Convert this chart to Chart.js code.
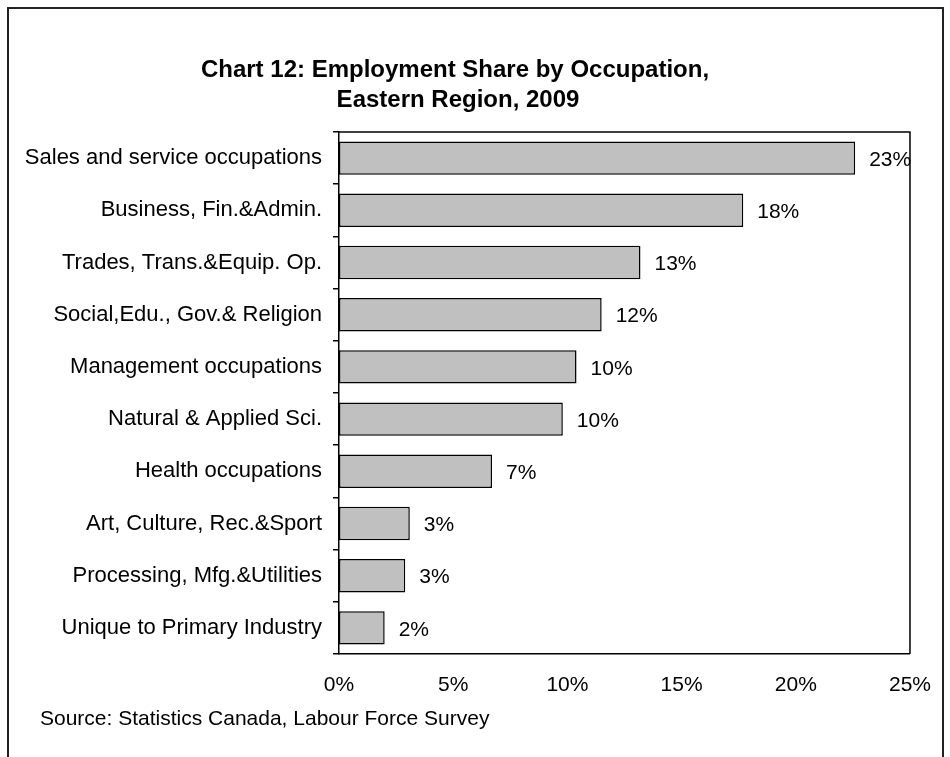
<!DOCTYPE html>
<html>
<head>
<meta charset="utf-8">
<script src="https://cdn.jsdelivr.net/npm/chart.js@4/dist/chart.umd.min.js"></script>
<style>
  html, body { margin: 0; padding: 0; background: #ffffff; }
  #wrap { width: 950px; height: 757px; position: relative; }
  canvas { display: block; }
</style>
</head>
<body>
<div id="wrap"><canvas id="c" width="950" height="757"></canvas></div>
<script>
const titleLines = ["Chart 12: Employment Share by Occupation,", "Eastern Region, 2009"];
const sourceNote = "Source: Statistics Canada, Labour Force Survey";
const categories = [
  "Sales and service occupations",
  "Business, Fin.&Admin.",
  "Trades, Trans.&Equip. Op.",
  "Social,Edu., Gov.& Religion",
  "Management occupations",
  "Natural & Applied Sci.",
  "Health occupations",
  "Art, Culture, Rec.&Sport",
  "Processing, Mfg.&Utilities",
  "Unique to Primary Industry"
];
const shares = [22.6, 17.7, 13.2, 11.5, 10.4, 9.8, 6.7, 3.1, 2.9, 2.0];
const xTicks = [0, 5, 10, 15, 20, 25];

const FONT = "'Liberation Sans', Arial, Helvetica, sans-serif";

const decor = {
  id: 'decor',
  afterDraw(chart) {
    const ctx = chart.ctx;
    const a = chart.chartArea;
    ctx.save();
    // outer frame (left, top, right)
    ctx.strokeStyle = '#222';
    ctx.lineWidth = 2;
    ctx.beginPath();
    ctx.moveTo(8, 760);
    ctx.lineTo(8, 8);
    ctx.lineTo(943, 8);
    ctx.lineTo(943, 760);
    ctx.stroke();
    // plot area box top and right
    ctx.strokeStyle = '#000';
    ctx.lineWidth = 1.5;
    ctx.beginPath();
    ctx.moveTo(a.left, a.top);
    ctx.lineTo(a.right, a.top);
    ctx.lineTo(a.right, a.bottom);
    ctx.stroke();
    // title
    ctx.fillStyle = '#000';
    ctx.textAlign = 'center';
    ctx.textBaseline = 'middle';
    ctx.font = "bold 24px " + FONT;
    ctx.fillText(titleLines[0], 455, 70);
    ctx.fillText(titleLines[1], 458, 100);
    // source
    ctx.textAlign = 'left';
    ctx.font = "21px " + FONT;
    ctx.fillText(sourceNote, 40, 719);
    // data labels
    const meta = chart.getDatasetMeta(0);
    ctx.font = "21px " + FONT;
    meta.data.forEach((bar, i) => {
      const v = chart.data.datasets[0].data[i];
      ctx.fillText(Math.round(v) + '%', bar.x + 14, bar.y + 2);
    });
    ctx.restore();
  }
};

new Chart(document.getElementById('c'), {
  type: 'bar',
  data: {
    labels: categories,
    datasets: [{
      data: shares,
      backgroundColor: '#c0c0c0',
      borderColor: '#000000',
      borderWidth: 1.5,
      borderSkipped: false,
      barPercentage: 0.64,
      categoryPercentage: 1.0
    }]
  },
  options: {
    responsive: false,
    animation: false,
    indexAxis: 'y',
    layout: { padding: { left: 0, right: 40, top: 132, bottom: 0 } },
    plugins: {
      legend: { display: false },
      title: { display: false },
      tooltip: { enabled: false }
    },
    scales: {
      x: {
        min: 0,
        max: 25,
        afterBuildTicks(scale) { scale.ticks = xTicks.map(v => ({ value: v })); },
        afterFit(scale) { scale.height = 103; },
        grid: { display: false, drawTicks: false },
        border: { display: true, color: '#000', width: 1.5 },
        ticks: {
          color: '#000',
          padding: 19,
          maxRotation: 0,
          font: { family: FONT, size: 21 },
          callback: (v) => v + '%'
        }
      },
      y: {
        afterFit(scale) { scale.width = 339; },
        grid: {
          display: true,
          drawOnChartArea: false,
          drawTicks: true,
          tickLength: 6,
          color: '#000',
          lineWidth: 1.5,
          offset: true
        },
        border: { display: true, color: '#000', width: 1.5 },
        ticks: {
          color: '#000',
          padding: 11,
          font: { family: FONT, size: 22 }
        }
      }
    }
  },
  plugins: [decor]
});
</script>
</body>
</html>
